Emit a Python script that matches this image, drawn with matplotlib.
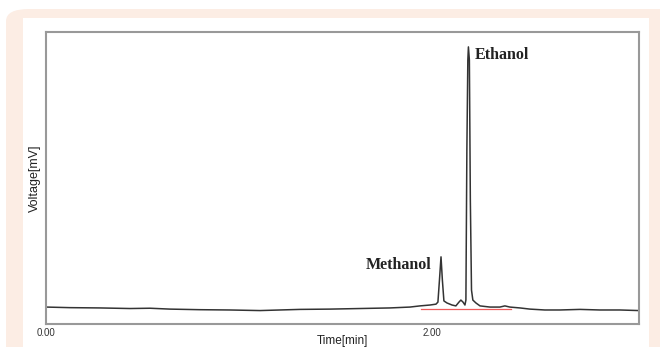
import matplotlib
matplotlib.use("Agg")
import matplotlib.pyplot as plt
from matplotlib.patches import FancyBboxPatch, Rectangle

# chromatogram trace (time [min], voltage [arb. mV])
time_min = [0.000, 0.124, 0.280, 0.435, 0.539, 0.642, 0.798, 0.953, 1.109,
            1.212, 1.316, 1.472, 1.627, 1.782, 1.886, 1.938, 1.990, 2.021,
            2.031, 2.039, 2.047, 2.054, 2.062, 2.078, 2.104, 2.124, 2.140,
            2.150, 2.161, 2.171, 2.176, 2.181, 2.186, 2.189, 2.194, 2.199,
            2.205, 2.212, 2.228, 2.249, 2.301, 2.352, 2.378, 2.404, 2.456,
            2.508, 2.585, 2.663, 2.767, 2.870, 2.974, 3.073]
voltage = [5.8, 5.6, 5.5, 5.3, 5.4, 5.1, 4.9, 4.8, 4.6, 4.8, 5.0, 5.1, 5.3,
           5.5, 5.8, 6.2, 6.5, 6.8, 7.5, 15.1, 23.0, 15.1, 7.9, 7.2, 6.5,
           6.2, 7.5, 8.2, 7.5, 6.5, 8.2, 59.6, 90.4, 94.9, 90.4, 42.5, 11.6,
           8.2, 7.2, 6.2, 5.8, 5.8, 6.2, 5.8, 5.5, 5.1, 4.8, 4.8, 5.0, 4.8,
           4.8, 4.6]

# integration baseline (drawn in red under the two peaks)
base_t = [1.943, 2.409]
base_v = [5.3, 5.3]

x_ticks = [0.0, 2.0]
x_tick_labels = ["0.00", "2.00"]

peak_labels = ["Methanol", "Ethanol"]
peak_label_pos = [(1.655, 20.2), (2.222, 92.0)]

fig = plt.figure(figsize=(6.6, 3.47), dpi=100)
W, H = 660, 347

# peach frame with rounded corner, white inner panel
fig.patches.append(FancyBboxPatch((6 / W, -0.2), 1.2, 1.2 - 9 / H,
                                  boxstyle="round,pad=0,rounding_size=0.035",
                                  transform=fig.transFigure, fc="#fcede4",
                                  ec="none", zorder=0))
fig.patches.append(Rectangle((23 / W, -0.1), (649 - 23) / W, 1.1 - 18 / H,
                             transform=fig.transFigure, fc="white",
                             ec="none", zorder=1))

ax = fig.add_axes([46 / W, 1 - 324 / H, (639 - 46) / W, (324 - 32) / H])
ax.set_zorder(2)
ax.plot(time_min, voltage, color="#333333", lw=1.1, zorder=2)
ax.plot(base_t, base_v, color="#ee5a5a", lw=0.9, zorder=1)

ax.set_xlim(0, 3.073)
ax.set_ylim(0, 100)
ax.set_xticks(x_ticks)
ax.set_xticklabels(x_tick_labels, family="Liberation Sans", fontsize=7,
                   color="#333333")
ax.tick_params(axis="x", length=0, pad=3)
ax.set_yticks([])
for s in ax.spines.values():
    s.set_color("#999999")
    s.set_linewidth(1.5)

ax.set_xlabel("Time[min]", family="Liberation Sans", fontsize=8.5,
              color="#222222", labelpad=-2.5)
ax.set_ylabel("Voltage[mV]", family="Liberation Sans", fontsize=9,
              color="#222222", labelpad=4)

for name, (tx, ty) in zip(peak_labels, peak_label_pos):
    ax.text(tx, ty, name, family="Liberation Serif", fontweight="bold",
            fontsize=11.5, color="#222222", va="center")

fig.savefig("out.png", dpi=100)
